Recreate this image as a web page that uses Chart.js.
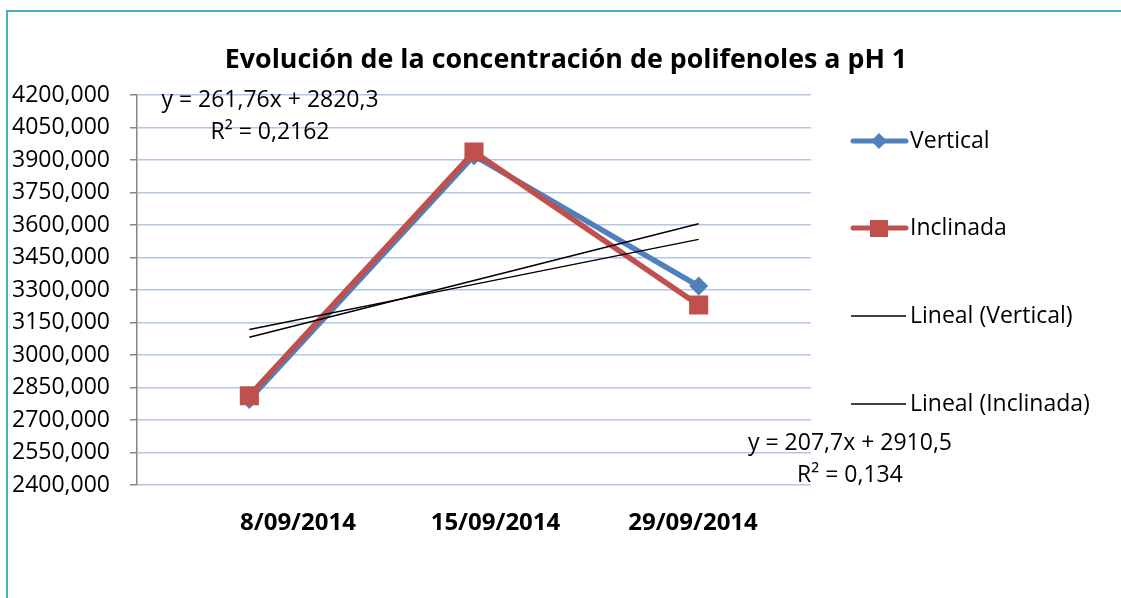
<!DOCTYPE html>
<html>
<head>
<meta charset="utf-8">
<script src="https://cdn.jsdelivr.net/npm/chart.js@4/dist/chart.umd.min.js"></script>
<style>
  html, body { margin: 0; padding: 0; background: #ffffff; overflow: hidden; }
  #wrap { width: 1121px; height: 598px; }
</style>
</head>
<body>
<div id="wrap"><canvas id="c" width="1121" height="598"></canvas></div>
<script>
// Sampling dates and measured polyphenol concentrations
const categories = ['8/09/2014', '15/09/2014', '29/09/2014'];
const verticalValues = [2795, 3920, 3318];
const inclinadaValues = [2812, 3937, 3231];
const yTickValues = [2400, 2550, 2700, 2850, 3000, 3150, 3300, 3450, 3600, 3750, 3900, 4050, 4200];

// Linear trendlines (x = 1, 2, 3) as reported in the equation boxes
const trendNames = ['Lineal (Vertical)', 'Lineal (Inclinada)'];
const trendSlopes = [261.76, 207.7];
const trendIntercepts = [2820.3, 2910.5];
const trendR2 = [0.2162, 0.134];

const FONT = "'Open Sans', 'DejaVu Sans', sans-serif";
const BLUE = '#4f81bd';
const RED = '#c0504d';

const comma = v => String(v).replace('.', ',');
const trendPoints = i => categories.map((_, k) => trendIntercepts[i] + trendSlopes[i] * (k + 1));

const decor = {
  id: 'decor',
  beforeDraw(chart) {
    const ctx = chart.ctx;
    ctx.save();
    ctx.fillStyle = '#ffffff';
    ctx.fillRect(0, 0, chart.width, chart.height);
    ctx.strokeStyle = '#4bacc6';
    ctx.lineWidth = 2;
    ctx.beginPath();
    ctx.moveTo(7, chart.height);
    ctx.lineTo(7, 11);
    ctx.lineTo(chart.width, 11);
    ctx.stroke();
    ctx.restore();
  },
  afterDraw(chart) {
    const ctx = chart.ctx;
    const a = chart.chartArea;
    ctx.save();
    // title
    ctx.fillStyle = '#000000';
    ctx.textAlign = 'center';
    ctx.textBaseline = 'middle';
    ctx.font = "bold 26.8px " + FONT;
    ctx.fillText('Evolución de la concentración de polifenoles a pH 1', 566, 60);

    // trendline equations
    ctx.font = "23px " + FONT;
    const eqPos = [[a.left + 133, a.top + 5], [a.right + 39, a.bottom - 42]];
    trendSlopes.forEach((s, i) => {
      const [x, y] = eqPos[i];
      ctx.fillText('y = ' + comma(s) + 'x + ' + comma(trendIntercepts[i]), x, y);
      ctx.fillText('R² = ' + comma(trendR2[i]), x, y + 32);
    });

    // legend
    const items = [
      { text: 'Vertical', color: BLUE, width: 5, marker: 'diamond' },
      { text: 'Inclinada', color: RED, width: 5, marker: 'square' },
      { text: trendNames[0], color: '#000000', width: 1.5 },
      { text: trendNames[1], color: '#000000', width: 1.5 }
    ];
    const lx = a.right + 40;
    const ly = [a.top + 46, a.top + 133, a.top + 221, a.top + 309];
    ctx.textAlign = 'left';
    items.forEach((it, i) => {
      const y = ly[i];
      ctx.strokeStyle = it.color;
      ctx.lineWidth = it.width;
      ctx.lineCap = it.width > 2 ? 'round' : 'butt';
      ctx.beginPath();
      ctx.moveTo(lx + (it.width > 2 ? 2 : 0), y);
      ctx.lineTo(lx + 55, y);
      ctx.stroke();
      ctx.fillStyle = it.color;
      const cx = lx + 28;
      if (it.marker === 'diamond') {
        ctx.beginPath();
        ctx.moveTo(cx, y - 8); ctx.lineTo(cx + 8, y); ctx.lineTo(cx, y + 8); ctx.lineTo(cx - 8, y);
        ctx.closePath(); ctx.fill();
      } else if (it.marker === 'square') {
        ctx.fillRect(cx - 9, y - 8, 18, 17);
      }
      ctx.fillStyle = '#000000';
      ctx.fillText(it.text, lx + 59, y);
    });
    ctx.restore();
  }
};

new Chart(document.getElementById('c'), {
  type: 'line',
  data: {
    labels: categories,
    datasets: [
      { label: 'Vertical', data: verticalValues, borderColor: BLUE, backgroundColor: BLUE,
        borderWidth: 5.5, pointStyle: 'rectRot', pointRadius: 9.5, pointBorderWidth: 0,
        tension: 0, order: 4 },
      { label: 'Inclinada', data: inclinadaValues, borderColor: RED, backgroundColor: RED,
        borderWidth: 5.5, pointStyle: 'rect', pointRadius: 13.5, pointBorderWidth: 0,
        tension: 0, order: 3 },
      { label: trendNames[0], data: trendPoints(0), borderColor: '#000000', borderWidth: 1.5,
        pointRadius: 0, tension: 0, order: 2 },
      { label: trendNames[1], data: trendPoints(1), borderColor: '#000000', borderWidth: 1.5,
        pointRadius: 0, tension: 0, order: 1 }
    ]
  },
  options: {
    responsive: false,
    animation: false,
    devicePixelRatio: 1,
    layout: { padding: { top: 95, right: 310, bottom: 0, left: 0 } },
    plugins: { legend: { display: false }, title: { display: false }, tooltip: { enabled: false } },
    scales: {
      x: { type: 'category', display: false, offset: true },
      xl: {
        type: 'linear', position: 'bottom', min: -0.815, max: 2.5975,
        grid: { display: false, drawTicks: false }, border: { display: false },
        ticks: {
          stepSize: 1, includeBounds: false, autoSkip: false, maxRotation: 0, padding: 24,
          color: '#000000', font: { family: FONT, size: 24, weight: 'bold' },
          callback: v => (Number.isInteger(v) && categories[v]) ? categories[v] : ''
        },
        afterFit: s => { s.height = 113; }
      },
      y: {
        min: 2400, max: 4200,
        afterBuildTicks: s => { s.ticks = yTickValues.map(v => ({ value: v })); },
        grid: { color: '#b3c7e8', lineWidth: 1.5, tickColor: '#868686', tickLength: 7 },
        border: { color: '#868686', width: 1.5 },
        ticks: { padding: 20, color: '#000000', font: { family: FONT, size: 23 },
          callback: v => v.toFixed(3).replace('.', ',') },
        afterFit: s => { s.width = 137; }
      }
    }
  },
  plugins: [decor]
});
</script>
</body>
</html>
